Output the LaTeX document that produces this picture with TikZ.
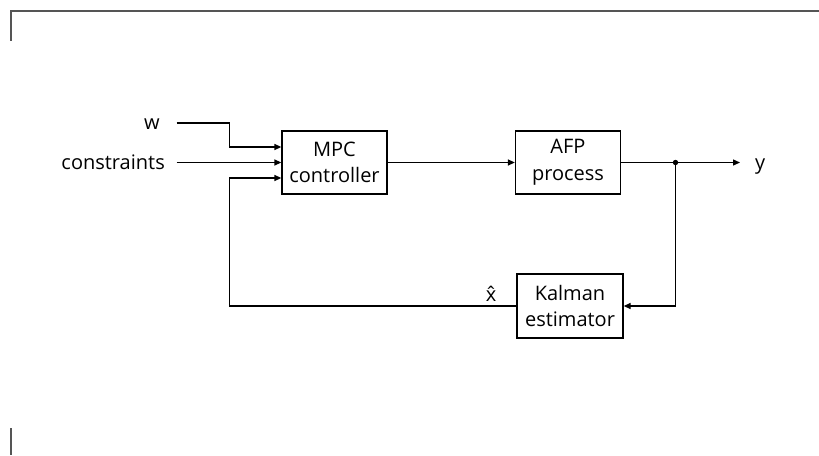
\documentclass[tikz,border=0pt]{standalone}
\usepackage{fontspec}
\setmainfont{Open Sans}
\usetikzlibrary{arrows.meta}
\definecolor{framegray}{RGB}{85,85,85}
\newcommand{\diagfont}{\fontsize{20}{26.6}\selectfont}
\begin{document}
\begin{tikzpicture}[x=1pt,y=-1pt,
  blk/.style={draw, line width=1.3pt, minimum width=105pt, minimum height=63pt, align=center, inner sep=0pt, font=\diagfont},
  lbl/.style={inner sep=0pt, font=\diagfont},
  wire/.style={line width=1.3pt},
  arr/.style={wire, -{Triangle[length=7pt,width=6pt]}},
  frame/.style={draw=framegray, line width=2pt}]
\useasboundingbox (0,0) rectangle (819,455);
% frame
\draw[frame] (10.5,40.5) -- (10.5,11) -- (819,11);
\draw[frame] (10.5,428) -- (10.5,455);
% blocks
\node[blk] (mpc) at (334.5,162.5) {\diagfont MPC\\\diagfont controller};
\node[blk] (afp) at (568,162.5) {\diagfont AFP\\\diagfont process};
\node[blk, minimum width=106pt, minimum height=64pt] (kal) at (570,306) {\diagfont Kalman\\\diagfont estimator};
% labels
\node[lbl, anchor=base] (wl) at (152,129) {\diagfont w};
\node[lbl, anchor=base east] (cl) at (165,169) {\diagfont constraints};
\node[lbl, anchor=base west] (yl) at (755,169) {\diagfont y};
\node[lbl, anchor=base] (xl) at (491,301) {\diagfont \accent"02C6 x};
% coordinates
\coordinate (win) at (176.5,123);
\coordinate (cin) at (176.5,162.5);
\coordinate (junc) at (675.5,162.5);
\coordinate (yout) at (740,162.5);
% connectors
\draw[arr] (win) -- (229.5,123) |- (mpc.west |- 0,147);
\draw[arr] (cin) -- (mpc.west);
\draw[arr] (kal.west) -| (229.5,178) -- (mpc.west |- 0,178);
\draw[arr] (mpc) -- (afp);
\draw[wire] (afp.east) -- (junc);
\draw[arr] (junc) -- (yout);
\draw[arr] (junc) |- (kal.east);
\fill (junc) circle (2.7pt);
\end{tikzpicture}
\end{document}
